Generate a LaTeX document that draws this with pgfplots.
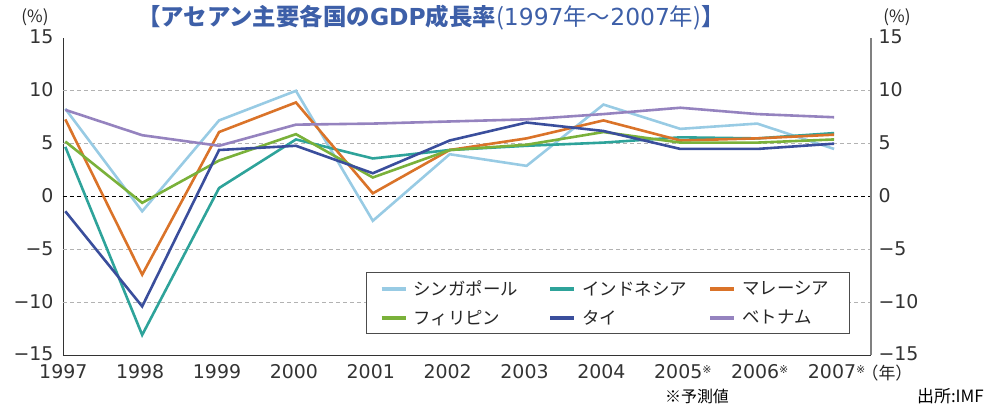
\documentclass[border=0pt]{standalone}
\usepackage{pgfplots}
\pgfplotsset{compat=1.18}
\usepackage{fontspec}
\setmainfont{Noto Sans CJK JP}
\newfontfamily\numfont{DejaVu Sans}
\definecolor{cSg}{HTML}{98CBE4}
\definecolor{cId}{HTML}{2EA39A}
\definecolor{cMy}{HTML}{DA7329}
\definecolor{cPh}{HTML}{7AB13A}
\definecolor{cTh}{HTML}{3A4E9C}
\definecolor{cVn}{HTML}{9583BF}
\definecolor{cTitle}{HTML}{3D5FA8}
\begin{document}
\begin{tikzpicture}
\useasboundingbox (-63bp,-51bp) rectangle (921bp,355bp);
\pgfplotsset{
  base/.style={
    scale only axis, width=808bp, height=317bp,
    anchor=south west, at={(0,0)},
    xmin=1996.97, xmax=2007.48, ymin=-15, ymax=15,
    ytick={-15,-10,-5,0,5,10,15},
    yticklabels={−15,−10,−5,0,5,10,15},
    major tick length=0pt,
    tick label style={font=\numfont\fontsize{19}{20}\selectfont, text=black!80},
  }
}
\begin{axis}[base,
  axis x line*=bottom, axis y line*=left,
  axis line style={black!80, line width=0.9bp},
  xtick={1997,...,2007},
  xticklabels={1997,1998,1999,2000,2001,2002,2003,2004,2005\rlap{\raisebox{5bp}{\fontsize{11}{11}\selectfont ※}},2006\rlap{\raisebox{5bp}{\fontsize{11}{11}\selectfont ※}},2007\rlap{\raisebox{5bp}{\fontsize{11}{11}\selectfont ※}}},
  xticklabel style={xshift=-2bp, yshift=-6bp},
  yticklabel style={xshift=-6bp, yshift=1bp},
  clip=false,
  legend columns=3,
  legend style={at={(303bp,20.7bp)}, anchor=south west, draw=black!70, line width=1bp,
    inner xsep=13bp, inner ysep=6bp,
    font=\fontsize{17.5}{19}\selectfont, text=black!85,
    /tikz/every odd column/.style={column sep=4bp},
    /tikz/every even column/.style={column sep=0bp},
    row sep=9bp},
  legend cell align=left,
  legend image code/.code={\draw[line width=4bp,#1] (0bp,0bp) -- (24bp,0bp);},
  every axis plot/.append style={line width=2.6bp, line join=miter},
]
% grid
\draw[gray!60, dash pattern=on 4bp off 3bp, line width=0.9bp] (axis cs:1996.97,10) -- (axis cs:2007.48,10);
\draw[gray!60, dash pattern=on 4bp off 3bp, line width=0.9bp] (axis cs:1996.97,5) -- (axis cs:2007.48,5);
\draw[gray!60, dash pattern=on 4bp off 3bp, line width=0.9bp] (axis cs:1996.97,-5) -- (axis cs:2007.48,-5);
\draw[gray!60, dash pattern=on 4bp off 3bp, line width=0.9bp] (axis cs:1996.97,-10) -- (axis cs:2007.48,-10);
\draw[black, dash pattern=on 4bp off 3bp, line width=0.9bp] (axis cs:1996.97,0) -- (axis cs:2007.48,0);
\addplot[cSg] coordinates {(1997,8.3)(1998,-1.4)(1999,7.2)(2000,10.0)(2001,-2.3)(2002,4.0)(2003,2.9)(2004,8.7)(2005,6.4)(2006,6.9)(2007,4.5)};
\addlegendentry{\makebox[133bp][l]{シンガポール}}
\addplot[cId] coordinates {(1997,4.7)(1998,-13.1)(1999,0.8)(2000,5.4)(2001,3.6)(2002,4.4)(2003,4.8)(2004,5.1)(2005,5.6)(2006,5.5)(2007,6.0)};
\addlegendentry{\makebox[124bp][l]{インドネシア}}
\addplot[cMy] coordinates {(1997,7.3)(1998,-7.4)(1999,6.1)(2000,8.9)(2001,0.3)(2002,4.4)(2003,5.5)(2004,7.2)(2005,5.3)(2006,5.5)(2007,5.85)};
\addlegendentry{\makebox[92bp][l]{マレーシア}}
\addplot[cPh] coordinates {(1997,5.2)(1998,-0.6)(1999,3.4)(2000,5.9)(2001,1.8)(2002,4.4)(2003,4.9)(2004,6.1)(2005,5.1)(2006,5.1)(2007,5.4)};
\addlegendentry{フィリピン}
\addplot[cTh] coordinates {(1997,-1.4)(1998,-10.4)(1999,4.4)(2000,4.8)(2001,2.2)(2002,5.3)(2003,7.0)(2004,6.2)(2005,4.5)(2006,4.5)(2007,5.0)};
\addlegendentry{タイ}
\addplot[cVn] coordinates {(1997,8.2)(1998,5.8)(1999,4.8)(2000,6.8)(2001,6.9)(2002,7.1)(2003,7.3)(2004,7.8)(2005,8.4)(2006,7.8)(2007,7.5)};
\addlegendentry{ベトナム}
\end{axis}
\begin{axis}[base,
  axis x line=none, axis y line*=right,
  axis line style={black!50, line width=1.1bp},
  xtick=\empty,
  yticklabel style={xshift=4bp, yshift=1bp},
]
\end{axis}
% texts
\node[font=\fontsize{23.5}{25}\selectfont, text=cTitle] at (368bp,337bp)
  {{\bfseries 【アセアン主要各国の{\numfont GDP}成長率}({\numfont 1997}年～{\numfont 2007}年){\bfseries 】}};
\node[font=\fontsize{17}{18}\selectfont, text=black!85] at (-28bp,338bp) {(\%)};
\node[font=\fontsize{17}{18}\selectfont, text=black!85] at (834bp,338bp) {(\%)};
\node[font=\fontsize{17}{18}\selectfont, text=black!85] at (824bp,-18bp) {（年）};
\node[font=\fontsize{16}{17}\selectfont, text=black] at (634bp,-41bp) {※予測値};
\node[font=\fontsize{17}{18}\selectfont, text=black, anchor=east, inner sep=0pt] at (921bp,-41bp) {出所:IMF};
\end{tikzpicture}
\end{document}
